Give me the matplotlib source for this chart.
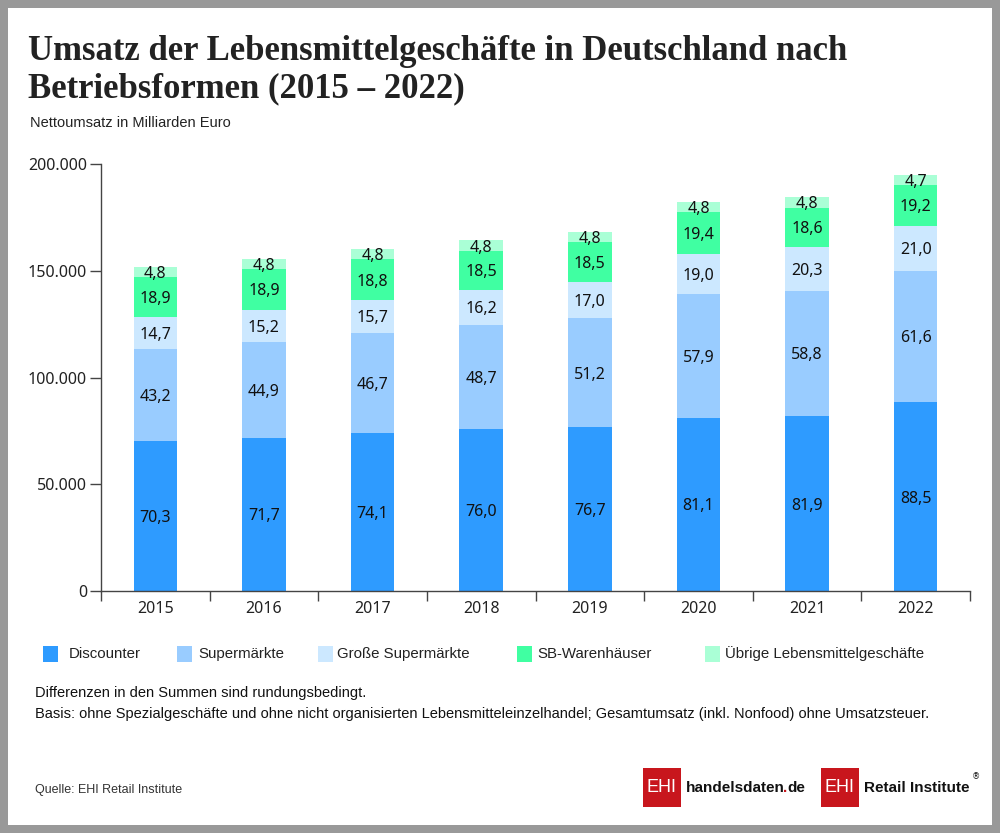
import matplotlib
matplotlib.use('Agg')
import matplotlib.pyplot as plt
from matplotlib.patches import Rectangle
from matplotlib.font_manager import FontProperties
import numpy as np

years = ['2015', '2016', '2017', '2018', '2019', '2020', '2021', '2022']
discounter = [70.3, 71.7, 74.1, 76.0, 76.7, 81.1, 81.9, 88.5]
supermaerkte = [43.2, 44.9, 46.7, 48.7, 51.2, 57.9, 58.8, 61.6]
grosse_supermaerkte = [14.7, 15.2, 15.7, 16.2, 17.0, 19.0, 20.3, 21.0]
sb_warenhaeuser = [18.9, 18.9, 18.8, 18.5, 18.5, 19.4, 18.6, 19.2]
uebrige = [4.8, 4.8, 4.8, 4.8, 4.8, 4.8, 4.8, 4.7]
series_names = ['Discounter', 'Supermärkte', 'Große Supermärkte', 'SB-Warenhäuser',
                'Übrige Lebensmittelgeschäfte']
colors = ['#2e9bff', '#99ccff', '#cce8ff', '#40ffa2', '#aaffd6']
y_ticks = [0, 50000, 100000, 150000, 200000]

W, H = 1000, 833
SANS = 'Liberation Sans'


def fx(px):
    return px / W


def fy(py):
    return 1 - py / H


fig = plt.figure(figsize=(10, 8.33), dpi=100)
fig.patch.set_facecolor('#999999')
fig.add_artist(Rectangle((fx(8), fy(825)), fx(992) - fx(8), fy(8) - fy(825),
                         transform=fig.transFigure, facecolor='white',
                         edgecolor='none', zorder=0))

ax = fig.add_axes([fx(101), fy(591), fx(970) - fx(101), fy(164) - fy(591)])
ax.patch.set_visible(False)

x = np.arange(len(years))
bottom = np.zeros(len(years))
all_series = [discounter, supermaerkte, grosse_supermaerkte, sb_warenhaeuser, uebrige]
for vals, color in zip(all_series, colors):
    v = np.array(vals) * 1000
    ax.bar(x, v, 0.4, bottom=bottom, color=color, edgecolor='none', zorder=2)
    for xi, b, vi, lab in zip(x, bottom, v, vals):
        ax.text(xi, b + vi / 2, f"{lab:.1f}".replace('.', ','), ha='center',
                va='center_baseline', fontsize=11.5, family='Noto Sans', color='#111111',
                zorder=3)
    bottom += v

ax.set_xlim(-0.5, len(years) - 0.5)
ax.set_ylim(0, 200000)
ax.set_yticks(y_ticks)
ax.set_yticklabels([f"{t:,}".replace(',', '.') for t in y_ticks], family='Noto Sans')
ax.set_xticks(np.arange(-0.5, len(years), 1))
ax.set_xticklabels([])
ax.set_xticks(x, minor=True)
ax.set_xticklabels(years, minor=True, family='Noto Sans')
ax.tick_params(axis='x', which='major', length=7.5, width=1, color='#444444')
ax.tick_params(axis='x', which='minor', length=0, pad=7, labelsize=11.5, labelcolor='#222222')
ax.tick_params(axis='y', length=8, width=1, pad=2, labelsize=11.5, color='#444444',
               labelcolor='#222222')
for s in ['top', 'right']:
    ax.spines[s].set_visible(False)
for s in ['left', 'bottom']:
    ax.spines[s].set_color('#444444')
    ax.spines[s].set_linewidth(1)

# title and subtitle
fig.text(fx(28), fy(60), 'Umsatz der Lebensmittelgeschäfte in Deutschland nach',
         family='Liberation Serif', weight='bold', fontsize=25, color='#222222', va='baseline')
fig.text(fx(28), fy(97), 'Betriebsformen (2015 – 2022)',
         family='Liberation Serif', weight='bold', fontsize=25, color='#222222', va='baseline')
fig.text(fx(30), fy(123), 'Nettoumsatz in Milliarden Euro', family=SANS,
         fontsize=10.5, color='#222222', va='center')

# legend
leg_sq = [43, 177, 318, 517, 705]
leg_tx = [69, 198, 337, 537, 725]
for name, color, sx, tx in zip(series_names, colors, leg_sq, leg_tx):
    fig.add_artist(Rectangle((fx(sx), fy(662)), 15 / W, 16 / H, transform=fig.transFigure,
                             facecolor=color, edgecolor='none'))
    fig.text(fx(tx), fy(654), name, family=SANS, fontsize=10.8, color='#222222', va='center')

# notes
fig.text(fx(35), fy(693), 'Differenzen in den Summen sind rundungsbedingt.', family=SANS,
         fontsize=10.5, color='#111111', va='center')
fig.text(fx(35), fy(714), 'Basis: ohne Spezialgeschäfte und ohne nicht organisierten '
         'Lebensmitteleinzelhandel; Gesamtumsatz (inkl. Nonfood) ohne Umsatzsteuer.',
         family=SANS, fontsize=10.5, color='#111111', va='center')
fig.text(fx(35), fy(790), 'Quelle: EHI Retail Institute', family=SANS, fontsize=9,
         color='#333333', va='center')

# logos
red = '#c8161d'
renderer = fig.canvas.get_renderer()
logo_font = FontProperties(family=SANS, weight='bold', size=11)


def text_w(s):
    return renderer.get_text_width_height_descent(s, logo_font, ismath=False)[0]


base_y = fy(792)
for bx, label in [(643, 'handelsdaten.de'), (821, 'Retail Institute')]:
    fig.add_artist(Rectangle((fx(bx), fy(807)), 38 / W, 39 / H, transform=fig.transFigure,
                             facecolor=red, edgecolor='none'))
    fig.text(fx(bx + 19), fy(788), 'EHI', family=SANS, fontsize=13, color='white',
             ha='center', va='center')
    x0 = bx + 43
    if label == 'handelsdaten.de':
        fig.text(fx(x0), base_y, 'handelsdaten', fontproperties=logo_font,
                 color='#111111', va='baseline')
        # single pieces are drawn with their side bearing, so pull them back a little
        dot_x = x0 + text_w('handelsdaten.') - text_w('.') - 2
        de_x = x0 + text_w('handelsdaten.de') - text_w('de') - 2
        fig.text(fx(dot_x), base_y, '.', fontproperties=logo_font, color=red, va='baseline')
        fig.text(fx(de_x), base_y, 'de', fontproperties=logo_font, color='#111111',
                 va='baseline')
    else:
        fig.text(fx(x0), base_y, label, fontproperties=logo_font, color='#111111',
                 va='baseline')
        fig.text(fx(x0 + text_w(label) + 2), fy(777), '®', family='DejaVu Sans', fontsize=6,
                 color='#111111', va='center')

fig.savefig('out.png', dpi=100, facecolor=fig.get_facecolor())
